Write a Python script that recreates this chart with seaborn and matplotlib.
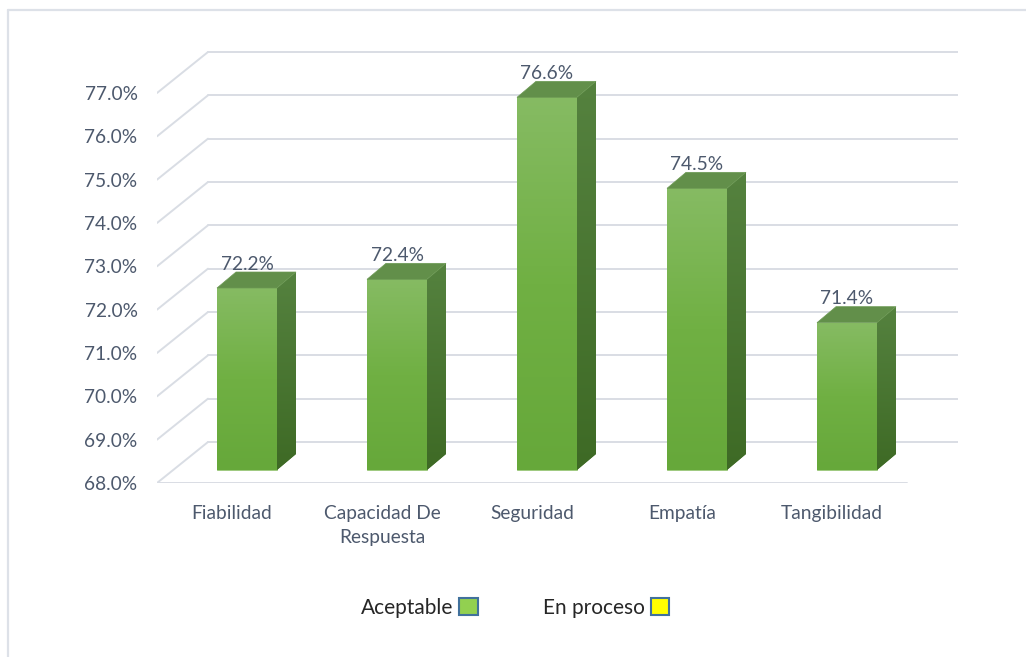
import seaborn as sns
import matplotlib.pyplot as plt
import numpy as np
from matplotlib.patches import Polygon, Patch
from matplotlib.colors import LinearSegmentedColormap
from matplotlib.lines import Line2D

# datos
categorias = ['Fiabilidad', 'Capacidad De\nRespuesta', 'Seguridad', 'Empatía', 'Tangibilidad']
valores = [72.2, 72.4, 76.6, 74.5, 71.4]
etiquetas = ['72.2%', '72.4%', '76.6%', '74.5%', '71.4%']
ticks_y = [68, 69, 70, 71, 72, 73, 74, 75, 76, 77]
leyenda = ['Aceptable', 'En proceso']

sns.set_theme(style='white')
plt.rcParams['font.family'] = ['Lato', 'DejaVu Sans']

TXT = '#4d596d'
GRID = '#d9dde4'
BASE = 68
FS = 13.8

fig = plt.figure(figsize=(10.26, 6.57), dpi=100)
# px por unidad: x 150 px / categoria, y 43.33 px / 1%
PX_X = 150.0
PX_Y = 390.0 / 9
W, H = 1026.0, 657.0
ax_w = 750 + 51
ax_h = PX_Y * 10
ax = fig.add_axes([157 / W, (H - 483) / H, ax_w / W, ax_h / H])

def px(dx, dy):
    return dx / PX_X, dy / PX_Y

wall_dx, wall_dy = px(51, 41)
bar_ox, bar_oy = px(15, 13)
dep_dx, dep_dy = px(19, 16)
xl, xr = -0.5, 4.5

# pared del fondo y pared izquierda
for t in ticks_y:
    ax.plot([xl + wall_dx, xr + wall_dx], [t + wall_dy, t + wall_dy], color=GRID, lw=1.4, zorder=1)
    ax.plot([xl, xl + wall_dx], [t, t + wall_dy], color=GRID, lw=1.4, zorder=1)
ax.plot([xl, xr], [BASE, BASE], color=GRID, lw=1.4, zorder=1)

# barras (cara frontal)
sns.barplot(x=categorias, y=valores, ax=ax, width=0.4, color='#74b04a',
            edgecolor='#9bc97a', linewidth=0.6, zorder=2)

front_cmap = LinearSegmentedColormap.from_list('f', ['#86bb63', '#70b043', '#66a83a'])
side_cmap = LinearSegmentedColormap.from_list('s', ['#55823f', '#3e6a25'])
grad = np.linspace(0, 1, 256).reshape(-1, 1)

for p, v, lab in zip(ax.patches, valores, etiquetas):
    x0 = p.get_x() + bar_ox
    w = p.get_width()
    x1 = x0 + w
    b = BASE + bar_oy
    top = v + bar_oy
    p.set_x(x0)
    p.set_y(b)
    p.set_height(v - BASE)
    im = ax.imshow(grad, extent=(x0, x1, b, top), origin='upper', cmap=front_cmap,
                   aspect='auto', zorder=2.1)
    im.set_clip_path(p)

    side = Polygon([(x1, b), (x1, top), (x1 + dep_dx, top + dep_dy), (x1 + dep_dx, b + dep_dy)],
                   closed=True, facecolor='#4a7631', edgecolor='none', zorder=2)
    ax.add_patch(side)
    im2 = ax.imshow(grad, extent=(x1, x1 + dep_dx, b, top + dep_dy), origin='upper',
                    cmap=side_cmap, aspect='auto', zorder=2.1)
    im2.set_clip_path(side)

    tapa = Polygon([(x0, top), (x0 + dep_dx, top + dep_dy), (x1 + dep_dx, top + dep_dy), (x1, top)],
                   closed=True, facecolor='#628f4a', edgecolor='#6d9a55', lw=0.5, zorder=2.2)
    ax.add_patch(tapa)

    ax.text(x0 + w / 2, top + 24 / PX_Y, lab, ha='center', va='center',
            fontsize=FS, color=TXT, zorder=3)

ax.set_xlim(xl, xr + wall_dx)
ax.set_ylim(BASE, BASE + 10)
ax.set_yticks(ticks_y)
ax.set_yticklabels([f'{t:.1f}%' for t in ticks_y])
ax.set_xticks(range(len(categorias)))
ax.set_xticklabels(categorias)
ax.tick_params(axis='y', length=0, pad=14, labelsize=FS, labelcolor=TXT)
ax.tick_params(axis='x', length=0, pad=16, labelsize=FS, labelcolor=TXT)
for lbl in ax.get_xticklabels():
    lbl.set_linespacing(1.45)
ax.set_xlabel('')
ax.set_ylabel('')
for s in ax.spines.values():
    s.set_visible(False)
ax.patch.set_alpha(0)

# leyenda
handles = [Patch(facecolor='#92d050', edgecolor='#41719c', lw=1.5),
           Patch(facecolor='#ffff00', edgecolor='#41719c', lw=1.5)]
fig.legend(handles, leyenda, loc='center', bbox_to_anchor=(0.502, 1 - 608 / H), ncol=2,
           frameon=False, markerfirst=False, fontsize=15, labelcolor='#262626',
           handlelength=0.9, handleheight=0.9, handletextpad=0.3, columnspacing=3.1)

# marco
fig.add_artist(Line2D([8 / W, 1.0], [1 - 10 / H, 1 - 10 / H], color='#dde1e8', lw=1.6))
fig.add_artist(Line2D([8 / W, 8 / W], [0, 1 - 10 / H], color='#dde1e8', lw=1.6))

fig.savefig('out.png', dpi=100, facecolor='white')
